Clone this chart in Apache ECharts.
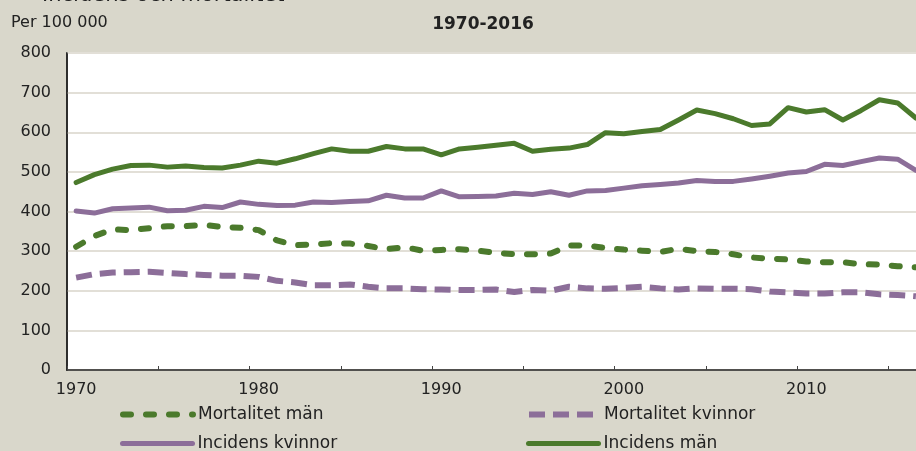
<!DOCTYPE html>
<html>
<head>
<meta charset="utf-8">
<script src="https://cdn.jsdelivr.net/npm/echarts@6/dist/echarts.min.js"></script>
<style>
html,body{margin:0;padding:0;background:#d9d7cb;}
#c{width:916px;height:451px;}
</style>
</head>
<body>
<div id="c"></div>
<script>
const years = [];
for (let y = 1970; y <= 2016; y++) years.push(String(y));

const incidensMan = [473,493,507,516,517,512,515,511,510,517,527,522,533,546,558,552,552,564,558,558,543,558,562,567,572,552,557,560,569,599,596,602,607,631,656,647,634,617,621,662,651,657,631,655,682,674,636];
const incidensKvinnor = [401,396,407,409,411,402,403,413,410,424,418,415,416,424,423,425,427,441,434,434,452,437,438,439,446,443,450,441,452,453,459,465,468,472,478,476,476,482,489,497,501,519,516,526,535,532,504];
const mortalitetMan = [311,338,355,353,358,363,363,366,361,359,353,327,315,317,320,319,313,305,310,301,303,305,301,296,292,292,294,314,314,308,304,301,298,306,300,298,292,284,281,279,274,272,272,267,266,262,259];
const mortalitetKvinnor = [233,242,246,247,248,245,242,240,238,238,235,225,221,214,214,216,210,206,206,204,203,202,202,203,197,202,200,210,206,205,207,210,206,203,206,205,205,204,198,196,193,193,196,196,191,189,186];

const GREEN = '#4b7a2c';
const PURPLE = '#8c6e99';
const FONT = 'DejaVu Sans';

const STYLES = {
  'Mortalitet män': {color: GREEN, width: 6, type: [8, 15], cap: 'round'},
  'Mortalitet kvinnor': {color: PURPLE, width: 6, type: [16, 8], cap: 'butt'},
  'Incidens kvinnor': {color: PURPLE, width: 5, type: 'solid', cap: 'round', join: 'round'},
  'Incidens män': {color: GREEN, width: 5, type: 'solid', cap: 'round', join: 'round'}
};

const chart = echarts.init(document.getElementById('c'), null, {renderer: 'canvas'});

function legendAt(name, left, top, iconW) {
  return {
    data: [name], left: left, top: top, itemWidth: iconW, itemHeight: 17, itemGap: 0,
    padding: 0,
    itemStyle: {opacity: 0},
    lineStyle: Object.assign({}, STYLES[name]),
    textStyle: {fontFamily: FONT, fontSize: 17, color: '#222'},
    selectedMode: false
  };
}

function seriesOf(name, data) {
  return {name: name, type: 'line', data: data, symbol: 'none', showSymbol: false,
    itemStyle: {color: STYLES[name].color}, lineStyle: Object.assign({}, STYLES[name])};
}

chart.setOption({
  backgroundColor: '#d9d7cb',
  animation: false,
  textStyle: {fontFamily: FONT},
  title: {
    text: '1970-2016', left: 478, top: 11, textAlign: 'center',
    textStyle: {fontFamily: FONT, fontSize: 17, fontWeight: 'bold', color: '#222'}
  },
  graphic: [
    {type: 'text', left: 11, top: 15, style: {text: 'Per 100 000', font: '16px "DejaVu Sans"', fill: '#222'}},
    {type: 'text', x: 42, y: -4, style: {text: 'Incidens och mortalitet', font: '21px "DejaVu Sans"', fill: '#222', verticalAlign: 'middle'}}
  ],
  legend: [
    legendAt('Mortalitet män', 120, 406, 70),
    legendAt('Mortalitet kvinnor', 526, 406, 70),
    legendAt('Incidens kvinnor', 120, 435, 70),
    legendAt('Incidens män', 526, 435, 70)
  ],
  grid: {
    left: 67, top: 53, width: 858, height: 317,
    containLabel: false, outerBoundsMode: 'none',
    show: true, backgroundColor: '#ffffff', borderColor: '#222', borderWidth: 1.5
  },
  xAxis: {
    type: 'category', data: years, boundaryGap: true,
    axisLine: {lineStyle: {color: '#222', width: 1.5}},
    axisTick: {show: true, inside: true, length: 4, interval: 4, lineStyle: {color: '#444'}},
    axisLabel: {interval: 9, margin: 12, fontFamily: FONT, fontSize: 16, color: '#222'},
    splitLine: {show: false}
  },
  yAxis: {
    type: 'value', min: 0, max: 800, interval: 100,
    axisLine: {show: true, lineStyle: {color: '#222', width: 1.5}},
    axisTick: {show: false},
    axisLabel: {margin: 16, fontFamily: FONT, fontSize: 16, color: '#222'},
    splitLine: {lineStyle: {color: '#e2dfd7', width: 2}}
  },
  series: [
    seriesOf('Mortalitet män', mortalitetMan),
    seriesOf('Mortalitet kvinnor', mortalitetKvinnor),
    seriesOf('Incidens kvinnor', incidensKvinnor),
    seriesOf('Incidens män', incidensMan)
  ]
});
</script>
</body>
</html>
